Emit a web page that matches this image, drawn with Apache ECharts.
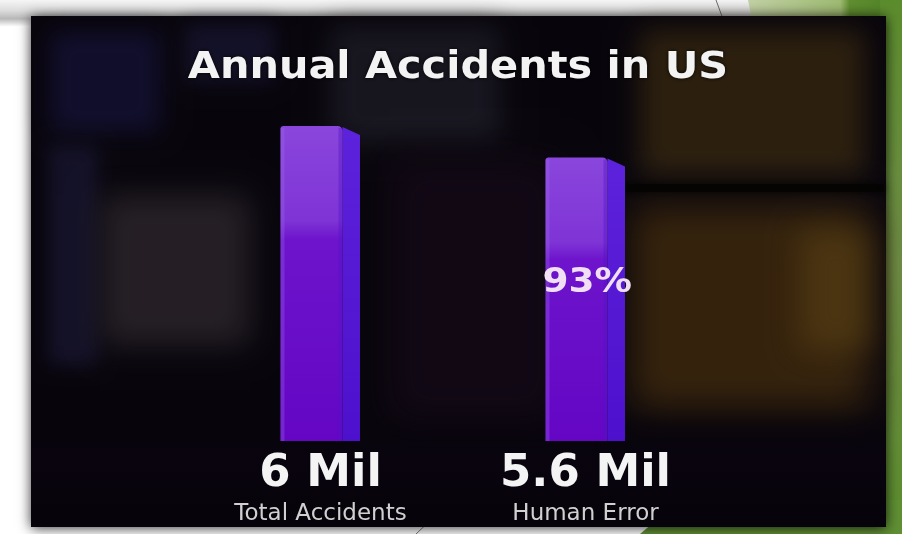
<!DOCTYPE html>
<html>
<head>
<meta charset="utf-8">
<script src="https://cdn.jsdelivr.net/npm/echarts@6/dist/echarts.min.js"></script>
<style>
html,body{margin:0;padding:0;background:#ffffff;}
#c{width:902px;height:534px;}
</style>
</head>
<body>
<div id="c"></div>
<script>
// ---- data ----
const titleText = 'Annual Accidents in US';
const categories = ['Total Accidents', 'Human Error'];
const values = [6, 5.6];              // millions
const valueLabels = ['6 Mil', '5.6 Mil'];
const shareLabels = ['', '93%'];
const axisMin = 2;
const axisMax = 6;

const chart = echarts.init(document.getElementById('c'), null, {renderer: 'canvas'});

// blurred rectangle: draw the shape off-canvas and keep only its shadow
function soft(x, y, w, h, color, blur) {
  return {
    type: 'rect', z: -5, silent: true,
    shape: {x: x - 3000, y: y, width: w, height: h},
    style: {fill: '#000', shadowBlur: blur || 30, shadowColor: color, shadowOffsetX: 3000, shadowOffsetY: 0}
  };
}

const bg = [
  {type: 'rect', z: -20, silent: true, shape: {x: 0, y: 0, width: 902, height: 534},
   style: {fill: {type: 'linear', x: 0, y: 0, x2: 0, y2: 1,
     colorStops: [{offset: 0, color: '#f6f6f6'}, {offset: 0.02, color: '#dcdcdc'}, {offset: 0.035, color: '#b8b8b8'}, {offset: 0.05, color: '#ffffff'}, {offset: 1, color: '#ffffff'}]}}},
  // green corner (theme decoration)
  {type: 'polygon', z: -19, silent: true, shape: {points: [[748, 0], [902, 0], [902, 30], [754, 30]]},
   style: {fill: {type: 'linear', x: 0, y: 0, x2: 1, y2: 0,
     colorStops: [{offset: 0, color: '#c3d2a6'}, {offset: 0.6, color: '#9fbc72'}, {offset: 0.66, color: '#5f8f30'}, {offset: 1, color: '#4c7f22'}]}}},
  {type: 'rect', z: -19, silent: true, shape: {x: 880, y: 0, width: 22, height: 534},
   style: {fill: {type: 'linear', x: 0, y: 0, x2: 0, y2: 1,
     colorStops: [{offset: 0, color: '#5b8c2c'}, {offset: 0.5, color: '#6f8f46'}, {offset: 1, color: '#5b8c2c'}]}}},
  {type: 'polygon', z: -19, silent: true, shape: {points: [[640, 534], [902, 534], [902, 500], [680, 500]]},
   style: {fill: '#5f8f34'}},
  {type: 'line', z: -18, silent: true, shape: {x1: 716, y1: 0, x2: 727, y2: 30}, style: {stroke: '#6a6a6a', lineWidth: 1}},
  {type: 'line', z: -18, silent: true, shape: {x1: 416, y1: 534, x2: 436, y2: 515}, style: {stroke: '#7a7a7a', lineWidth: 1}},
  // dark photo frame
  {type: 'rect', z: -15, silent: true, shape: {x: 31, y: 16, width: 855, height: 511},
   style: {fill: '#07040b', shadowBlur: 12, shadowColor: 'rgba(0,0,0,0.8)', shadowOffsetY: 1}},
  // blurred background shapes
  soft(50, 32, 110, 100, 'rgba(18,16,48,0.9)', 22),
  soft(185, 24, 90, 58, 'rgba(22,20,46,0.8)', 18),
  soft(330, 26, 170, 116, 'rgba(28,26,36,0.8)', 26),
  soft(48, 145, 50, 220, 'rgba(22,20,46,0.8)', 18),
  soft(100, 195, 150, 150, 'rgba(40,34,40,0.9)', 30),
  soft(640, 30, 225, 145, 'rgba(48,34,14,0.9)', 26),
  soft(630, 205, 240, 205, 'rgba(58,38,12,0.9)', 36),
  soft(800, 230, 70, 120, 'rgba(80,56,18,0.8)', 30),
  soft(390, 160, 170, 260, 'rgba(22,10,24,0.7)', 35),
  {type: 'rect', z: -4, silent: true, shape: {x: 600, y: 184, width: 284, height: 8},
   style: {fill: 'rgba(4,4,2,0.8)', shadowBlur: 8, shadowColor: 'rgba(0,0,0,0.9)'}},
  {type: 'rect', z: -4, silent: true, shape: {x: 31, y: 410, width: 855, height: 117},
   style: {fill: {type: 'linear', x: 0, y: 0, x2: 0, y2: 1,
     colorStops: [{offset: 0, color: 'rgba(8,4,12,0)'}, {offset: 0.4, color: 'rgba(9,4,14,0.85)'}, {offset: 1, color: 'rgba(7,3,10,0.95)'}]}}},
  // title
  {type: 'text', z: 10, silent: true, x: 458, y: 68, scaleX: 1.12,
   style: {text: titleText, fill: '#f3f3f3', font: 'bold 37px "DejaVu Sans"', align: 'center', verticalAlign: 'middle',
     textShadowColor: 'rgba(0,0,0,0.9)', textShadowBlur: 4}}
];

function renderBar(params, api) {
  const idx = api.value(0);
  const v = api.value(1);
  const topPt = api.coord([idx, v]);
  const basePt = api.coord([idx, axisMin]);
  const band = api.size([1, 0])[0];
  const cx = topPt[0];
  const fw = band * 0.234;
  const sw = band * 0.066;
  const x1 = cx - fw * 0.645;
  const x2 = x1 + fw;
  const x3 = x2 + sw;
  const top = topPt[1];
  const bot = basePt[1];
  const h = bot - top;
  const children = [
    {type: 'polygon', shape: {points: [[x2, top + 1], [x3, top + 9], [x3, bot], [x2, bot]]},
     style: {fill: {type: 'linear', x: 0, y: 0, x2: 0, y2: 1,
       colorStops: [{offset: 0, color: '#5d22dc'}, {offset: 1, color: '#4d10cc'}]}}},
    {type: 'rect', shape: {x: x1, y: top, width: fw, height: h, r: [3, 5, 0, 0]},
     style: {fill: {type: 'linear', x: 0, y: 0, x2: 0, y2: 1,
       colorStops: [{offset: 0, color: '#8a46dc'}, {offset: 0.3, color: '#7f34d6'},
                    {offset: 0.36, color: '#6d14cc'}, {offset: 1, color: '#6406c4'}]}}},
    {type: 'rect', shape: {x: x1, y: top + 2, width: 4, height: h - 2},
     style: {fill: 'rgba(160,110,240,0.3)'}},
    {type: 'rect', shape: {x: x2 - 4, y: top + 2, width: 4, height: h - 2},
     style: {fill: 'rgba(80,20,200,0.4)'}}
  ];
  const s = shareLabels[idx];
  if (s) {
    children.push({type: 'text', x: (x1 + x3) / 2 + 2, y: top + h * 0.445, scaleX: 1.1,
      style: {text: s, fill: '#f1dff4', font: 'bold 34px "DejaVu Sans"', align: 'center', verticalAlign: 'middle'}});
  }
  return {type: 'group', children: children};
}

chart.setOption({
  backgroundColor: 'transparent',
  animation: false,
  graphic: {elements: bg},
  grid: {left: 188, right: 184, top: 126, bottom: 93},
  xAxis: {
    type: 'category', data: categories,
    axisLine: {show: false}, axisTick: {show: false},
    axisLabel: {
      margin: 8, interval: 0,
      formatter: function (val, i) { return '{v|' + valueLabels[i] + '}\n{c|' + val + '}'; },
      rich: {
        v: {fontFamily: 'DejaVu Sans', fontWeight: 'bold', fontSize: 45, color: '#f4f4f4', lineHeight: 50, align: 'center'},
        c: {fontFamily: 'DejaVu Sans', fontSize: 23, color: '#d0d0d0', lineHeight: 30, align: 'center'}
      }
    }
  },
  yAxis: {type: 'value', min: axisMin, max: axisMax, show: false, splitLine: {show: false}},
  series: [{
    type: 'custom', renderItem: renderBar,
    data: values.map(function (v, i) { return [i, v]; }),
    encode: {x: 0, y: 1}
  }]
});
</script>
</body>
</html>
